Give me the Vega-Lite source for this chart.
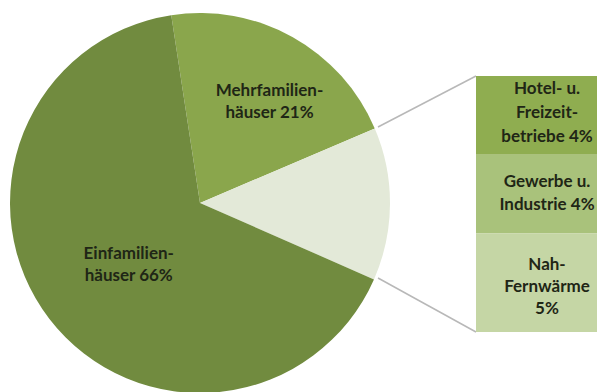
{
  "$schema": "https://vega.github.io/schema/vega-lite/v6.json",
  "width": 597,
  "height": 392,
  "autosize": "none",
  "padding": 0,
  "background": "white",
  "config": {"view": {"stroke": null}, "font": "Lato"},
  "datasets": {
    "pie": [
      {"category": "Mehrfamilienhäuser", "label": "Mehrfamilien-\nhäuser 21%", "share": 21, "order": 1},
      {"category": "Sonstige", "label": "", "share": 13, "order": 2},
      {"category": "Einfamilienhäuser", "label": "Einfamilien-\nhäuser 66%", "share": 66, "order": 3}
    ],
    "bar": [
      {"category": "Hotel- u. Freizeitbetriebe", "label": "Hotel- u.\nFreizeit-\nbetriebe 4%", "share": 4, "order": 3},
      {"category": "Gewerbe u. Industrie", "label": "Gewerbe u.\nIndustrie 4%", "share": 4, "order": 2},
      {"category": "Nah-Fernwärme", "label": "Nah-\nFernwärme\n5%", "share": 5, "order": 1}
    ]
  },
  "layer": [
    {
      "data": {"name": "pie"},
      "mark": {"type": "arc", "x": 200, "y": 203, "outerRadius": 190, "stroke": null},
      "encoding": {
        "theta": {"field": "share", "type": "quantitative", "stack": true, "scale": {"domain": [0, 100], "range": [-0.1518, 6.1314]}},
        "order": {"field": "order", "type": "quantitative"},
        "color": {
          "field": "category", "type": "nominal", "legend": null,
          "scale": {
            "domain": ["Einfamilienhäuser", "Mehrfamilienhäuser", "Sonstige", "Hotel- u. Freizeitbetriebe", "Gewerbe u. Industrie", "Nah-Fernwärme"],
            "range": ["#718b3f", "#8aa64c", "#e3e9d8", "#8fad50", "#a9c27b", "#c5d6a5"]
          }
        }
      }
    },
    {
      "data": {"values": [{}]},
      "mark": {"type": "rule", "color": "#b8b8b8", "strokeWidth": 1.5},
      "encoding": {"x": {"value": 378}, "y": {"value": 127}, "x2": {"value": 476}, "y2": {"value": 76}}
    },
    {
      "data": {"values": [{}]},
      "mark": {"type": "rule", "color": "#b8b8b8", "strokeWidth": 1.5},
      "encoding": {"x": {"value": 378}, "y": {"value": 278}, "x2": {"value": 476}, "y2": {"value": 332}}
    },
    {
      "data": {"name": "bar"},
      "transform": [{"stack": "share", "groupby": [], "sort": [{"field": "order"}], "as": ["s0", "s1"]}],
      "mark": {"type": "rect"},
      "encoding": {
        "x": {"value": 476},
        "x2": {"value": 618},
        "y": {"field": "s1", "type": "quantitative", "axis": null, "scale": {"domain": [0, 13], "range": [332, 76]}},
        "y2": {"field": "s0"},
        "color": {"field": "category", "type": "nominal", "legend": null}
      }
    },
    {
      "data": {"name": "bar"},
      "transform": [
        {"stack": "share", "groupby": [], "sort": [{"field": "order"}], "as": ["s0", "s1"]},
        {"filter": "datum.order === 3"}
      ],
      "mark": {"type": "text", "align": "center", "baseline": "middle", "lineBreak": "\n", "lineHeight": 24, "fontSize": 17, "fontWeight": "bold", "color": "#1f2616", "dy": 13},
      "encoding": {
        "x": {"value": 547},
        "y": {"field": "s1", "type": "quantitative", "axis": null, "scale": {"domain": [0, 13], "range": [332, 76]}},
        "text": {"field": "label", "type": "nominal"}
      }
    },
    {
      "data": {"name": "bar"},
      "transform": [
        {"stack": "share", "groupby": [], "sort": [{"field": "order"}], "as": ["s0", "s1"]},
        {"filter": "datum.order === 2"}
      ],
      "mark": {"type": "text", "align": "center", "baseline": "middle", "lineBreak": "\n", "lineHeight": 23, "fontSize": 17, "fontWeight": "bold", "color": "#1f2616", "dy": 27},
      "encoding": {
        "x": {"value": 547},
        "y": {"field": "s1", "type": "quantitative", "axis": null, "scale": {"domain": [0, 13], "range": [332, 76]}},
        "text": {"field": "label", "type": "nominal"}
      }
    },
    {
      "data": {"name": "bar"},
      "transform": [
        {"stack": "share", "groupby": [], "sort": [{"field": "order"}], "as": ["s0", "s1"]},
        {"filter": "datum.order === 1"}
      ],
      "mark": {"type": "text", "align": "center", "baseline": "middle", "lineBreak": "\n", "lineHeight": 22, "fontSize": 17, "fontWeight": "bold", "color": "#1f2616", "dy": 31},
      "encoding": {
        "x": {"value": 547},
        "y": {"field": "s1", "type": "quantitative", "axis": null, "scale": {"domain": [0, 13], "range": [332, 76]}},
        "text": {"field": "label", "type": "nominal"}
      }
    },
    {
      "data": {"name": "pie"},
      "mark": {"type": "text", "x": 200, "y": 203, "radius": 110, "dx": 16, "dy": -16, "align": "center", "baseline": "middle", "lineBreak": "\n", "lineHeight": 22, "fontSize": 17, "fontWeight": "bold", "color": "#1f2616"},
      "encoding": {
        "theta": {"field": "share", "type": "quantitative", "stack": true, "scale": {"domain": [0, 100], "range": [-0.1518, 6.1314]}},
        "order": {"field": "order", "type": "quantitative"},
        "text": {"field": "label", "type": "nominal"}
      }
    }
  ]
}
